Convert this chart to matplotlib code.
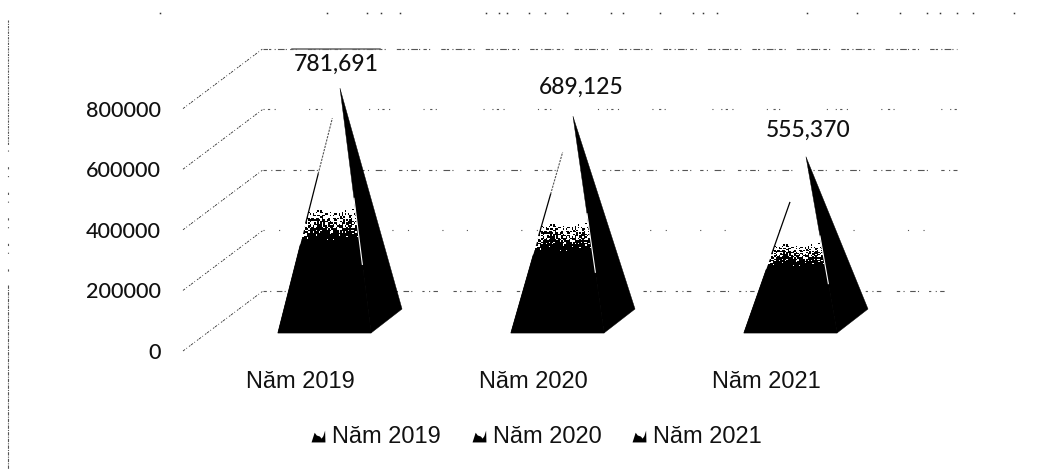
#!/usr/bin/env python3

import numpy as np
import matplotlib
matplotlib.use('Agg')
import matplotlib.pyplot as plt
from matplotlib.lines import Line2D
from matplotlib.path import Path
from matplotlib.patches import Polygon

years = ['Năm 2019', 'Năm 2020', 'Năm 2021']
values = [781691, 689125, 555370]
value_labels = ['781,691', '689,125', '555,370']
y_ticks = [0, 200000, 400000, 600000, 800000]

W, H = 1040, 469
DEPTH_X, DEPTH_Y = 0.3433, 198000      # shift of the back wall, in data units
HALF_W = 0.2                           # half width of a pyramid base
HALF_DX, HALF_DY = 0.0665, 39600       # half depth of a pyramid base
LIFT = 86000                           # apex sits this far above its value

# line pattern of each back gridline, the lower and upper ones are faint
grid_dash = {
    0: (0, (3, 3, 1, 5, 5, 2, 1, 9, 2, 4, 1, 3, 4, 14)),
    200000: (0, (1, 13, 1, 30, 1, 21, 1, 48)),
    400000: (0, (3, 4, 1, 3, 5, 2, 1, 8, 3, 3, 1, 6, 6, 2, 1, 12)),
    600000: (0, (1, 3, 2, 4, 1, 30, 1, 5, 2, 3, 1, 42, 1, 7)),
    800000: (0, (4, 1, 2, 3, 1, 2, 6, 1, 1, 3, 3, 2, 1, 10)),
}
edge_solid = [0.65, 0.64, 0.74]
edge_top = [0.877, 0.834, 0.74]
label_nudge = [(-3, 17), (6, 21), (2, 19)]
# stray specks along the top of the sheet, in pixels across
top_specks = [160, 327, 367, 381, 400, 486, 499, 507, 529, 545, 567, 611, 623,
              660, 693, 703, 717, 807, 857, 900, 927, 940, 957, 973, 1014]


def grain(nx, ny):
    # hash based grain for the dithered face shading
    xx, yy = np.meshgrid(np.arange(nx), np.arange(ny))
    return np.mod(np.sin(xx * 12.9898 + yy * 78.233) * 43758.5453, 1.0)


def lerp(a, b, t):
    return (a[0] + (b[0] - a[0]) * t, a[1] + (b[1] - a[1]) * t)


def draw_pyramid(ax, pos, value, solid, top):
    cx, cy = pos + DEPTH_X / 2, DEPTH_Y / 2
    apex = (cx, value + LIFT)
    fl = (cx - HALF_W - HALF_DX, cy - HALF_DY)
    fr = (cx + HALF_W - HALF_DX, cy - HALF_DY)
    br = (cx + HALF_W + HALF_DX, cy + HALF_DY)

    # front face: white at the top, black at the bottom, dithered between
    ny, nx = 164, 62
    frac = (np.arange(ny)[::-1] + 0.5) / ny
    shade = np.clip((frac[:, None] - 0.37) / 0.14, 0, 1) * np.ones((ny, nx))
    dither = (shade ** 1.3 > grain(nx, ny)).astype(float)
    front = Polygon([fl, fr, apex], closed=True, transform=ax.transData)
    img = ax.imshow(dither, cmap='gray', vmin=0, vmax=1, aspect='auto',
                    interpolation='nearest', zorder=3,
                    extent=(fl[0], fr[0], fl[1], apex[1]))
    img.set_clip_path(front)

    # solid lower part closes the seam between the two faces
    ax.fill(*zip(fl, fr, lerp(fr, apex, 0.36), lerp(fl, apex, 0.36)), color='black', lw=0.5, zorder=3.5)
    ax.fill(*zip(apex, fr, br), color='black', lw=0.3, zorder=4)

    # left edge of the front face fades out towards the apex
    a, b = lerp(fl, apex, 0.45), lerp(fl, apex, solid)
    ax.plot(*zip(a, b), color='black', lw=0.9, zorder=5)
    if top > solid:
        a, b = lerp(fl, apex, solid), lerp(fl, apex, top)
        ax.plot(*zip(a, b), color='#555555', lw=0.8, ls=(0, (2, 1)), zorder=5)

    # thin highlight along the front right edge
    a, b = lerp(fr, apex, 0.28), lerp(fr, apex, 0.55)
    ax.plot(*zip(a, b), color='white', lw=0.8, zorder=5)
    return apex


fig = plt.figure(figsize=(W / 100, H / 100), dpi=100)
ax = fig.add_axes([183 / W, 1 - 351 / H, (957 - 183) / W, 303 / H])
ax.set_xlim(-0.502, 2.82)
ax.set_ylim(0, 1000000)

# side wall and back wall gridlines
for t in y_ticks:
    ax.plot([-0.502, -0.502 + DEPTH_X], [t, t + DEPTH_Y], color='#333333', lw=0.6,
            ls=(0, (3, 2, 1, 3, 2, 1)), clip_on=False, zorder=1)
    ax.plot([-0.502 + DEPTH_X, 2.82], [t + DEPTH_Y, t + DEPTH_Y], color='#555555', lw=0.8,
            ls=grid_dash[t], clip_on=False, zorder=1)

# the top line comes out heavier above the first pyramid
ax.plot([-0.035, 0.345], [800000 + DEPTH_Y] * 2, color='#666666', lw=1.1,
        clip_on=False, zorder=1)

for i, (v, lab) in enumerate(zip(values, value_labels)):
    apex = draw_pyramid(ax, i, v, edge_solid[i], edge_top[i])
    ax.annotate(lab, apex, xytext=label_nudge[i], textcoords='offset points',
                ha='center', va='center', fontsize=16.5, family='Lato', fontweight='medium',
                color='#111111', zorder=6)

ax.set_xlim(-0.502, 2.82)
ax.set_ylim(0, 1000000)

for s in ax.spines.values():
    s.set_visible(False)
ax.patch.set_alpha(0)
ax.set_xticks(range(len(years)))
ax.set_xticklabels(years, fontsize=17, family='Liberation Sans', color='#111111')
ax.set_yticks(y_ticks)
ax.set_yticklabels([str(t) for t in y_ticks], fontsize=15.5, family='Lato', fontweight='medium',
                   color='#111111')
ax.tick_params(axis='x', length=0, pad=14.5)
ax.tick_params(axis='y', length=0, pad=16)

# legend icons are small jagged silhouettes
icon = Path([(-1, -1), (-0.55, 0.4), (-0.25, 0.0), (0.2, -0.15), (0.45, -0.45),
             (0.7, -0.1), (0.95, 0.7), (1, -1), (-1, -1)])
handles = [Line2D([], [], ls='none', marker=icon, markersize=10, color='black', mew=0) for _ in years]
ax.legend(handles, years, loc='center', bbox_to_anchor=(536.5 / W, 1 - 437 / H),
          bbox_transform=fig.transFigure, ncol=3, frameon=False, borderpad=0, borderaxespad=0,
          handlelength=0.6, handletextpad=0.3, columnspacing=1.3,
          prop={'family': 'Liberation Sans', 'size': 17}, labelcolor='#111111')


# faint dotted frame at the top and left of the sheet
def frame_line(xs, ys, dash, color='#555555'):
    fig.add_artist(Line2D(np.array(xs) / W, 1 - np.array(ys) / H, color=color, lw=0.8, ls=dash))


fig.add_artist(Line2D(np.array(top_specks) / W, [1 - 13 / H] * len(top_specks), ls='none',
                      marker='s', ms=1.1, mew=0, color='#333333'))
frame_line([8, 8], [20, 145], (0, (2, 1, 1, 1)))
frame_line([8, 8], [150, 275], (0, (1, 14, 2, 6)))
frame_line([8, 8], [285, 469], (0, (3, 1, 1, 1)))

fig.savefig('out.png', dpi=100)
